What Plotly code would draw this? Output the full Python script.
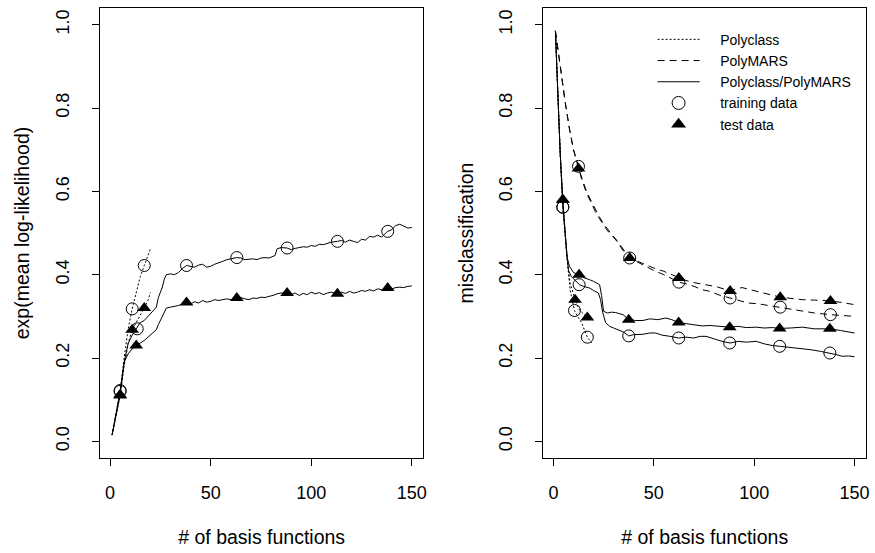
import plotly.graph_objects as go

# ---------------- data ----------------
# Left panel: exp(mean log-likelihood)
L_pc_train_x = [1, 3, 5, 7, 9, 11, 13, 15, 17, 19, 20]
L_pc_train_y = [0.015, 0.07, 0.12, 0.20, 0.27, 0.318, 0.36, 0.395, 0.422, 0.445, 0.461]
L_pc_test_x = [1, 3, 5, 7, 9, 11, 13, 15, 17, 19, 20]
L_pc_test_y = [0.015, 0.06, 0.11, 0.18, 0.235, 0.268, 0.285, 0.30, 0.32, 0.34, 0.357]
L_pc_train_mx = [5, 11, 17]
L_pc_train_my = [0.12, 0.318, 0.422]
L_pc_test_mx = [5, 11, 17]
L_pc_test_my = [0.11, 0.268, 0.32]

L_pp_train_x = [1, 3, 5, 7, 9, 11, 13, 15, 17, 19, 21, 23, 24, 26, 27, 28, 30, 32, 34, 36, 38, 40, 42,
                44, 46, 48, 50, 52, 54, 56, 58, 60, 63, 65, 67, 69, 71, 73, 75, 77, 79, 81, 82, 83,
                85, 88, 90, 92, 94, 96, 98, 100, 102, 104, 106, 108, 110, 113, 115, 117, 119, 121,
                123, 125, 127, 129, 131, 133, 135, 137, 138, 140, 142, 144, 146, 148, 150]
L_pp_train_y = [0.015, 0.07, 0.12, 0.19, 0.235, 0.255, 0.27, 0.285, 0.29, 0.30, 0.31, 0.322, 0.345,
                0.37, 0.39, 0.40, 0.402, 0.40, 0.405, 0.415, 0.422, 0.42, 0.418, 0.423, 0.425, 0.418,
                0.42, 0.425, 0.428, 0.432, 0.436, 0.438, 0.441, 0.44, 0.436, 0.437, 0.438, 0.436,
                0.44, 0.441, 0.44, 0.444, 0.446, 0.462, 0.465, 0.464, 0.46, 0.463, 0.465, 0.467,
                0.466, 0.47, 0.468, 0.473, 0.472, 0.475, 0.478, 0.48, 0.482, 0.478, 0.483, 0.48,
                0.477, 0.485, 0.483, 0.492, 0.49, 0.495, 0.49, 0.50, 0.504, 0.508, 0.518, 0.521,
                0.517, 0.512, 0.513]
L_pp_test_x = [1, 3, 5, 7, 9, 11, 13, 15, 17, 19, 21, 23, 24, 26, 28, 30, 32, 34, 36, 38, 40, 42, 44,
               46, 48, 50, 52, 54, 56, 58, 60, 63, 65, 67, 69, 71, 73, 75, 77, 79, 81, 83, 85, 88,
               90, 92, 94, 96, 98, 100, 102, 104, 106, 108, 110, 113, 115, 117, 119, 121, 123, 125,
               127, 129, 131, 133, 135, 138, 140, 142, 144, 146, 148, 150]
L_pp_test_y = [0.015, 0.065, 0.11, 0.19, 0.21, 0.222, 0.23, 0.236, 0.242, 0.25, 0.258, 0.268, 0.28,
               0.30, 0.32, 0.322, 0.324, 0.326, 0.33, 0.333, 0.33, 0.335, 0.332, 0.338, 0.334, 0.336,
               0.34, 0.338, 0.34, 0.342, 0.34, 0.344, 0.345, 0.342, 0.34, 0.344, 0.343, 0.346,
               0.345, 0.348, 0.35, 0.354, 0.356, 0.356, 0.352, 0.356, 0.35, 0.355, 0.352, 0.358,
               0.354, 0.357, 0.352, 0.356, 0.358, 0.354, 0.358, 0.355, 0.36, 0.356, 0.358, 0.362,
               0.36, 0.364, 0.361, 0.366, 0.364, 0.368, 0.366, 0.369, 0.37, 0.369, 0.372, 0.373]
L_pp_train_mx = [5, 13.5, 38, 63, 88, 113, 138]
L_pp_train_my = [0.122, 0.27, 0.422, 0.441, 0.464, 0.48, 0.504]
L_pp_test_mx = [5, 13, 38, 63, 88, 113, 138]
L_pp_test_my = [0.112, 0.23, 0.333, 0.344, 0.356, 0.354, 0.368]

# Right panel: misclassification
R_pc_train_x = [1, 2, 3.4, 4.7, 5.7, 6.7, 8.3, 10.5, 12, 14, 16.9, 19]
R_pc_train_y = [0.985, 0.85, 0.69, 0.562, 0.49, 0.444, 0.364, 0.314, 0.30, 0.285, 0.25, 0.236]
R_pc_test_x = [1, 2, 3.4, 4.7, 5.7, 6.7, 8.3, 10.8, 13, 15, 16.9, 19]
R_pc_test_y = [0.985, 0.85, 0.69, 0.58, 0.50, 0.444, 0.38, 0.34, 0.315, 0.305, 0.297, 0.297]
R_pc_train_mx = [4.7, 10.5, 16.9]
R_pc_train_my = [0.562, 0.314, 0.25]
R_pc_test_mx = [4.7, 10.8, 16.9]
R_pc_test_my = [0.58, 0.34, 0.297]

R_pm_train_x = [1, 2.5, 4, 6, 8, 10, 12.5, 14, 16.5, 19, 21, 23, 25, 27, 29, 31, 33, 35.5, 38, 42,
                46, 50, 55, 59, 62.5, 66, 70, 74, 78, 82, 85, 88, 92, 97, 102, 107, 113, 118, 124,
                130, 138, 144, 150]
R_pm_train_y = [0.985, 0.93, 0.87, 0.81, 0.75, 0.70, 0.66, 0.63, 0.596, 0.57, 0.55, 0.534, 0.52,
                0.505, 0.495, 0.484, 0.47, 0.452, 0.44, 0.43, 0.42, 0.41, 0.40, 0.39, 0.382, 0.378,
                0.372, 0.364, 0.36, 0.352, 0.348, 0.344, 0.338, 0.332, 0.33, 0.326, 0.322, 0.318,
                0.312, 0.308, 0.304, 0.302, 0.30]
R_pm_test_x = [1, 2.5, 4, 6, 8, 10, 12.5, 14, 16.5, 19, 21, 23, 25, 27, 29, 31, 33, 35.5, 38, 42,
               46, 50, 55, 59, 62.5, 66, 70, 74, 78, 82, 85, 88, 91, 94, 98, 104, 108, 113, 118,
               124, 130, 138, 144, 150]
R_pm_test_y = [0.985, 0.93, 0.87, 0.81, 0.75, 0.70, 0.655, 0.635, 0.60, 0.575, 0.555, 0.538, 0.522,
               0.508, 0.497, 0.486, 0.472, 0.455, 0.44, 0.432, 0.424, 0.416, 0.408, 0.40, 0.392,
               0.386, 0.381, 0.378, 0.374, 0.37, 0.366, 0.361, 0.366, 0.369, 0.364, 0.356, 0.352,
               0.346, 0.343, 0.34, 0.339, 0.337, 0.333, 0.328]
R_pm_train_mx = [12.5, 38, 62.5, 88, 113, 138]
R_pm_train_my = [0.66, 0.44, 0.382, 0.344, 0.322, 0.304]
R_pm_test_mx = [12.5, 38, 62.5, 88, 113, 138]
R_pm_test_my = [0.655, 0.44, 0.392, 0.361, 0.346, 0.337]

R_pp_train_x = [1, 2, 3.4, 4.7, 5.7, 6.7, 7.5, 9, 11, 13, 15, 18, 20, 22.4, 23.5, 24.5, 26, 28, 30,
                33, 35, 37.5, 40, 44.6, 48, 51, 54, 58, 62.4, 66, 70, 73, 76, 80, 84, 88, 92, 96,
                101, 105, 109, 113, 117, 120, 124, 128, 133, 138, 141, 144, 147, 150]
R_pp_train_y = [0.985, 0.85, 0.69, 0.562, 0.50, 0.444, 0.41, 0.395, 0.385, 0.376, 0.372, 0.368,
                0.362, 0.356, 0.34, 0.31, 0.285, 0.276, 0.272, 0.265, 0.262, 0.253, 0.256, 0.257,
                0.26, 0.26, 0.255, 0.252, 0.248, 0.25, 0.248, 0.252, 0.252, 0.246, 0.24, 0.236,
                0.24, 0.238, 0.24, 0.234, 0.23, 0.228, 0.226, 0.224, 0.222, 0.22, 0.216, 0.212,
                0.208, 0.204, 0.205, 0.203]
R_pp_test_x = [1, 2, 3.4, 4.7, 5.7, 6.7, 8, 10, 12.8, 15, 18, 20, 23, 24, 25, 27, 29, 31, 34.7, 37.5,
               41, 44.6, 48, 52, 56, 59, 62.4, 66, 70, 74, 78, 82, 88, 92, 96, 101, 105, 109, 113,
               118, 124, 130, 138, 143, 147, 150]
R_pp_test_y = [0.985, 0.85, 0.69, 0.58, 0.50, 0.444, 0.42, 0.405, 0.40, 0.393, 0.388, 0.384, 0.376,
               0.35, 0.312, 0.308, 0.31, 0.309, 0.304, 0.292, 0.29, 0.29, 0.294, 0.292, 0.296,
               0.292, 0.285, 0.283, 0.28, 0.277, 0.278, 0.276, 0.274, 0.276, 0.273, 0.274, 0.272,
               0.273, 0.271, 0.272, 0.274, 0.27, 0.27, 0.266, 0.262, 0.26]
R_pp_train_mx = [4.7, 12.8, 37.5, 62.4, 87.8, 112.7, 137.7]
R_pp_train_my = [0.562, 0.376, 0.253, 0.248, 0.236, 0.228, 0.212]
R_pp_test_mx = [4.7, 12.8, 37.5, 62.4, 87.8, 112.7, 137.7]
R_pp_test_my = [0.58, 0.40, 0.292, 0.285, 0.274, 0.271, 0.27]

x_ticks = [0, 50, 100, 150]
y_ticks = [0.0, 0.2, 0.4, 0.6, 0.8, 1.0]
y_ticktext = ["0.0", "0.2", "0.4", "0.6", "0.8", "1.0"]
legend_names = ["Polyclass", "PolyMARS", "Polyclass/PolyMARS", "training data", "test data"]

# ---------------- styles ----------------
FONT = "Liberation Sans, Arial, Helvetica, sans-serif"
DOT = "2px,2px"
DASH = "7px,5px"
BLK = "black"
PAD = "\u00a0" * 4

fig = go.Figure()


def line(x, y, dash, ax):
    fig.add_trace(go.Scatter(x=x, y=y, mode="lines", showlegend=False, hoverinfo="skip",
                             line=dict(color=BLK, width=1, dash=dash),
                             xaxis=ax[0], yaxis=ax[1]))


def circles(x, y, ax):
    fig.add_trace(go.Scatter(x=x, y=y, mode="markers", showlegend=False, hoverinfo="skip",
                             marker=dict(symbol="circle-open", size=12, color=BLK,
                                         line=dict(width=1, color=BLK)),
                             xaxis=ax[0], yaxis=ax[1]))


def triangles(x, y, ax):
    fig.add_trace(go.Scatter(x=x, y=y, mode="markers", showlegend=False, hoverinfo="skip",
                             marker=dict(symbol="triangle-up", size=12, color=BLK,
                                         line=dict(width=0)),
                             xaxis=ax[0], yaxis=ax[1]))


A1 = ("x", "y")
A2 = ("x2", "y2")

# left panel
line(L_pc_train_x, L_pc_train_y, DOT, A1)
line(L_pc_test_x, L_pc_test_y, DOT, A1)
line(L_pp_train_x, L_pp_train_y, "solid", A1)
line(L_pp_test_x, L_pp_test_y, "solid", A1)
circles(L_pc_train_mx, L_pc_train_my, A1)
triangles(L_pc_test_mx, L_pc_test_my, A1)
circles(L_pp_train_mx, L_pp_train_my, A1)
triangles(L_pp_test_mx, L_pp_test_my, A1)

# right panel
line(R_pc_train_x, R_pc_train_y, DOT, A2)
line(R_pc_test_x, R_pc_test_y, DOT, A2)
line(R_pm_train_x, R_pm_train_y, DASH, A2)
line(R_pm_test_x, R_pm_test_y, DASH, A2)
line(R_pp_train_x, R_pp_train_y, "solid", A2)
line(R_pp_test_x, R_pp_test_y, "solid", A2)
circles(R_pc_train_mx, R_pc_train_my, A2)
triangles(R_pc_test_mx, R_pc_test_my, A2)
circles(R_pm_train_mx, R_pm_train_my, A2)
triangles(R_pm_test_mx, R_pm_test_my, A2)
circles(R_pp_train_mx, R_pp_train_my, A2)
triangles(R_pp_test_mx, R_pp_test_my, A2)

# legend entries
for name, dash in zip(legend_names[:3], [DOT, DASH, "solid"]):
    fig.add_trace(go.Scatter(x=[None], y=[None], mode="lines", name=PAD + name,
                             line=dict(color=BLK, width=1, dash=dash), xaxis="x2", yaxis="y2"))
fig.add_trace(go.Scatter(x=[None], y=[None], mode="markers", name=PAD + legend_names[3],
                         marker=dict(symbol="circle-open", size=13, color=BLK,
                                     line=dict(width=1, color=BLK)), xaxis="x2", yaxis="y2"))
fig.add_trace(go.Scatter(x=[None], y=[None], mode="markers", name=PAD + legend_names[4],
                         marker=dict(symbol="triangle-up", size=13, color=BLK, line=dict(width=0)),
                         xaxis="x2", yaxis="y2"))

xcommon = dict(range=[-5.0, 155.7], tickvals=x_ticks, showline=True, mirror=True, linecolor=BLK,
               linewidth=1, ticks="outside", ticklen=7, tickcolor=BLK, tickwidth=1,
               showgrid=False, zeroline=False, tickfont=dict(size=18, color=BLK, family=FONT),
               ticklabelstandoff=11,
               title=dict(text="# of basis functions", font=dict(size=19.5, color=BLK, family=FONT),
                          standoff=28))
ycommon = dict(range=[-0.04, 1.04], tickvals=y_ticks, ticktext=y_ticktext, tickangle=-90,
               showline=True, mirror=True, linecolor=BLK, linewidth=1, ticks="outside",
               ticklen=7, tickcolor=BLK, tickwidth=1, showgrid=False, zeroline=False,
               tickfont=dict(size=18, color=BLK, family=FONT), ticklabelstandoff=16)

fig.update_layout(
    width=875, height=553,
    margin=dict(l=100, r=5, t=8, b=95),
    paper_bgcolor="white", plot_bgcolor="white",
    font=dict(family=FONT, color=BLK),
    xaxis=dict(domain=[0, 0.4221], anchor="y", **xcommon),
    xaxis2=dict(domain=[0.5788, 1.0], anchor="y2", **xcommon),
    yaxis=dict(domain=[0, 1], anchor="x",
               title=dict(text="exp(mean log-likelihood)",
                          font=dict(size=19.5, color=BLK, family=FONT), standoff=17),
               **ycommon),
    yaxis2=dict(domain=[0, 1], anchor="x2",
                title=dict(text="misclassification",
                           font=dict(size=19.5, color=BLK, family=FONT), standoff=17),
                **ycommon),
    legend=dict(x=0.7214, y=0.965, xanchor="left", yanchor="top", bgcolor="rgba(0,0,0,0)",
                borderwidth=0, font=dict(size=14, color=BLK, family=FONT),
                itemwidth=42, tracegroupgap=0),
    showlegend=True,
)

fig.write_html("out.html")
